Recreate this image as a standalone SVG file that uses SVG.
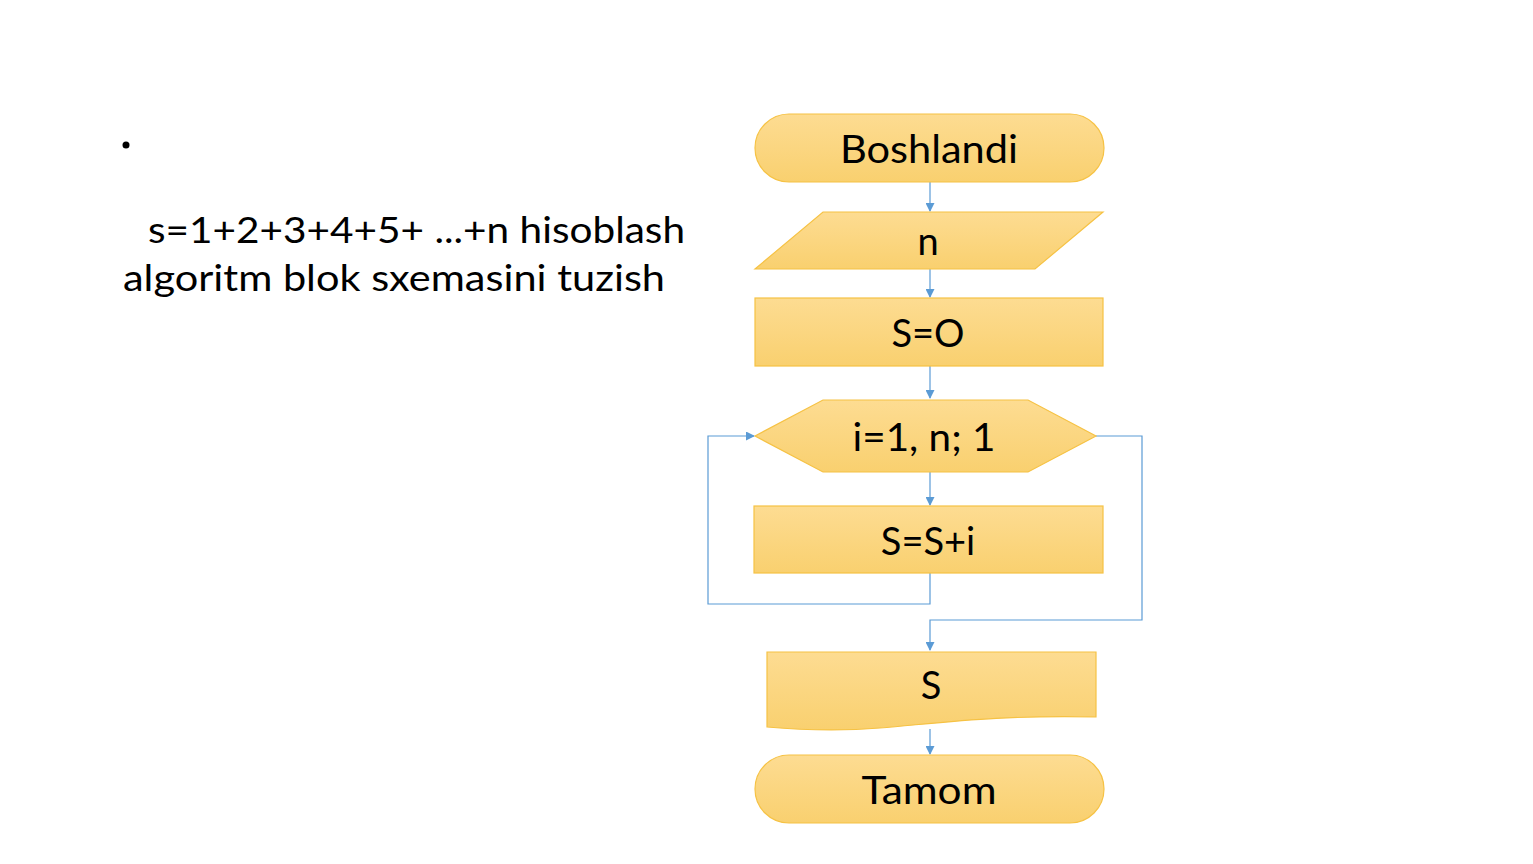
<svg xmlns="http://www.w3.org/2000/svg" width="1533" height="864" viewBox="0 0 1533 864">
<defs>
<linearGradient id="g" x1="0" y1="0" x2="0" y2="1">
<stop offset="0" stop-color="#fddc92"/>
<stop offset="1" stop-color="#f9d06f"/>
</linearGradient>
<marker id="ah" markerWidth="9" markerHeight="9" refX="8" refY="4.5" orient="auto" markerUnits="userSpaceOnUse">
<path d="M0,0 L9,4.5 L0,9 z" fill="#5b9bd5"/>
</marker>
<style>
.shape{fill:url(#g);stroke:#f6c244;stroke-width:1.2}
.lbl{font-family:Lato,"Open Sans","Liberation Sans",sans-serif;font-size:38px;fill:#000;text-anchor:middle}
.txt{font-family:Lato,"Open Sans","Liberation Sans",sans-serif;font-size:37px;fill:#000}
.con{fill:none;stroke:#5b9bd5;stroke-width:1.2}
</style>
</defs>
<rect width="1533" height="864" fill="#fff"/>
<g id="title">
<circle cx="126" cy="145" r="3.5" fill="#000"/>
<text class="txt" x="148" y="243" textLength="537" lengthAdjust="spacingAndGlyphs">s=1+2+3+4+5+ ...+n hisoblash</text>
<text class="txt" x="123" y="291" textLength="542" lengthAdjust="spacingAndGlyphs">algoritm blok sxemasini tuzish</text>
</g>
<g id="connectors">
<line class="con" x1="930" y1="182" x2="930" y2="211" marker-end="url(#ah)"/>
<line class="con" x1="930" y1="269" x2="930" y2="297" marker-end="url(#ah)"/>
<line class="con" x1="930" y1="366" x2="930" y2="398" marker-end="url(#ah)"/>
<line class="con" x1="930" y1="472" x2="930" y2="505" marker-end="url(#ah)"/>
<polyline class="con" points="930,573 930,604 708,604 708,436 754,436" marker-end="url(#ah)"/>
<polyline class="con" points="1096,436 1142,436 1142,620 930,620 930,650" marker-end="url(#ah)"/>
<line class="con" x1="930" y1="729" x2="930" y2="754" marker-end="url(#ah)"/>
</g>
<g id="start">
<rect class="shape" x="755" y="114" width="349" height="68" rx="34" ry="34"/>
<text class="lbl" x="929" y="163" font-size="40" textLength="178" lengthAdjust="spacingAndGlyphs">Boshlandi</text>
</g>
<g id="input">
<polygon class="shape" points="823,212 1103,212 1035,269 755,269"/>
<text class="lbl" x="928" y="255">n</text>
</g>
<g id="init">
<rect class="shape" x="755" y="298" width="348" height="68"/>
<text class="lbl" x="928" y="347">S=O</text>
</g>
<g id="loop">
<polygon class="shape" points="823,400 1028,400 1096,436 1028,472 823,472 755,436"/>
<text class="lbl" x="924" y="451" textLength="143" lengthAdjust="spacingAndGlyphs">i=1, n; 1</text>
</g>
<g id="body">
<rect class="shape" x="754" y="506" width="349" height="67"/>
<text class="lbl" x="928" y="555">S=S+i</text>
</g>
<g id="output">
<path class="shape" d="M767,652 L1096,652 L1096,717 C1000,715 950,722 880,728 C830,732 790,729 767,727 Z"/>
<text class="lbl" x="931" y="699">S</text>
</g>
<g id="end">
<rect class="shape" x="755" y="755" width="349" height="68" rx="34" ry="34"/>
<text class="lbl" x="929" y="804" font-size="40" textLength="135" lengthAdjust="spacingAndGlyphs">Tamom</text>
</g>
</svg>
